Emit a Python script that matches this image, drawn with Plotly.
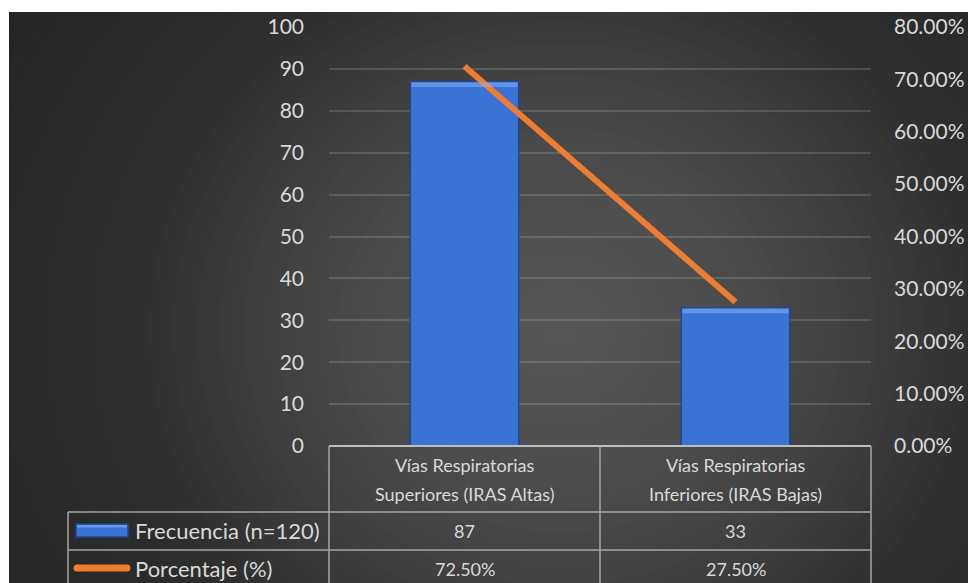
import plotly.graph_objects as go

# ---------------- data ----------------
categories = ["Vías Respiratorias<br>Superiores (IRAS Altas)",
              "Vías Respiratorias<br>Inferiores (IRAS Bajas)"]
frecuencia = [87, 33]
porcentaje = [0.725, 0.275]
series_names = ["Frecuencia (n=120)", "Porcentaje (%)"]
left_ticks = [0, 10, 20, 30, 40, 50, 60, 70, 80, 90, 100]
right_ticks = [0.0, 0.1, 0.2, 0.3, 0.4, 0.5, 0.6, 0.7, 0.8]

# ---------------- geometry (screen pixels) ----------------
FW, FH = 968, 583
L, R, T, B = 329, 871, 27, 446          # plot area
W, H = R - L, B - T


def px(x):
    return (x - L) / W


def py(y):
    return (B - y) / H


FONT = "Lato, Carlito, Calibri, sans-serif"
CELL_FONT = FONT
TXT = "#d9d9d9"
GRID = "rgba(255,255,255,0.14)"
TABLE = "#a6a6a6"
BLUE = "#3a72d6"
BLUE_EDGE = "#1d4894"
ORANGE = "#ed7d31"
FS_TICK = 21
FS_NAME = 22
FS_CELL = 18
BAR_W = 0.4

fig = go.Figure()

fig.add_trace(go.Bar(
    x=categories, y=frecuencia, name=series_names[0],
    marker=dict(color=BLUE, line=dict(color=BLUE_EDGE, width=1.5)),
    width=BAR_W, yaxis="y", showlegend=False, hoverinfo="skip"))

fig.add_trace(go.Scatter(
    x=categories, y=porcentaje, name=series_names[1], mode="lines",
    line=dict(color=ORANGE, width=6), yaxis="y2", showlegend=False,
    hoverinfo="skip"))

shapes = []

# background radial gradient (stepped ellipses)
cx, cy, rx, ry = 560, 330, 440, 400


def gray(t):
    if t <= 1:
        c = 86 - 40 * t ** 1.5
    else:
        c = 46 - (t - 1) * 18
    c = max(36, int(round(c)))
    return "rgb(%d,%d,%d)" % (c, c, c)


shapes.append(dict(type="rect", xref="paper", yref="paper",
                   x0=px(0), x1=px(FW), y0=py(FH), y1=py(0),
                   fillcolor=gray(2.0), line=dict(width=0), layer="below"))
n = 60
tmax = 1.6
for i in range(n):
    t = tmax * (n - i) / n
    shapes.append(dict(type="circle", xref="paper", yref="paper",
                       x0=px(cx - rx * t), x1=px(cx + rx * t),
                       y0=py(cy + ry * t), y1=py(cy - ry * t),
                       fillcolor=gray(t), line=dict(width=0), layer="below"))
# white outer strips (chart frame starts at x=9, y=12)
shapes.append(dict(type="rect", xref="paper", yref="paper",
                   x0=px(-10), x1=px(FW + 10), y0=py(12), y1=py(-10),
                   fillcolor="white", line=dict(width=0), layer="below"))
shapes.append(dict(type="rect", xref="paper", yref="paper",
                   x0=px(-10), x1=px(9), y0=py(FH + 10), y1=py(-10),
                   fillcolor="white", line=dict(width=0), layer="below"))

# bevel highlight on top of each bar (data coordinates)
for i, v in enumerate(frecuencia):
    shapes.append(dict(type="rect", xref="x", yref="y",
                       x0=i - BAR_W / 2 + 0.004, x1=i + BAR_W / 2 - 0.004,
                       y0=v - 1.3, y1=v - 0.2,
                       fillcolor="rgba(150,190,255,0.45)", line=dict(width=0),
                       layer="above"))


def hline(y, x0, x1, w=1.5, col=TABLE):
    shapes.append(dict(type="line", xref="paper", yref="paper",
                       x0=px(x0), x1=px(x1), y0=py(y), y1=py(y),
                       line=dict(color=col, width=w), layer="above"))


def vline(x, y0, y1, w=1.5, col=TABLE):
    shapes.append(dict(type="line", xref="paper", yref="paper",
                       x0=px(x), x1=px(x), y0=py(y0), y1=py(y1),
                       line=dict(color=col, width=w), layer="above"))


hline(446, 329, 871, 2, "#bfbfbf")
hline(512, 68, 871)
hline(550, 68, 871)
vline(329, 446, 600)
vline(600, 446, 600)
vline(871, 446, 600)
vline(68, 512, 600)

# legend keys in table
shapes.append(dict(type="rect", xref="paper", yref="paper",
                   x0=px(76), x1=px(128), y0=py(537), y1=py(524),
                   fillcolor=BLUE, line=dict(color=BLUE_EDGE, width=1.5),
                   layer="above"))
shapes.append(dict(type="rect", xref="paper", yref="paper",
                   x0=px(77), x1=px(127), y0=py(527.5), y1=py(525),
                   fillcolor="rgba(150,190,255,0.5)", line=dict(width=0),
                   layer="above"))
shapes.append(dict(type="rect", xref="paper", yref="paper",
                   x0=px(77), x1=px(127), y0=py(571.5), y1=py(564.5),
                   fillcolor=ORANGE, line=dict(width=0), layer="above"))
for ex in (77, 127):
    shapes.append(dict(type="circle", xref="paper", yref="paper",
                       x0=px(ex - 3.5), x1=px(ex + 3.5),
                       y0=py(571.5), y1=py(564.5),
                       fillcolor=ORANGE, line=dict(width=0), layer="above"))

annotations = []
for i, cat in enumerate(categories):
    for line_text, yc in zip(cat.split("<br>"), (465, 494)):
        annotations.append(dict(x=cat, xref="x", y=py(yc), yref="paper",
                                text=line_text, showarrow=False,
                                font=dict(family=CELL_FONT, size=FS_CELL, color=TXT),
                                xanchor="center", yanchor="middle"))
    annotations.append(dict(x=cat, xref="x", y=py(531), yref="paper",
                            text=str(frecuencia[i]), showarrow=False,
                            font=dict(family=CELL_FONT, size=FS_CELL, color=TXT),
                            xanchor="center", yanchor="middle"))
    annotations.append(dict(x=cat, xref="x", y=py(569), yref="paper",
                            text="%.2f%%" % (porcentaje[i] * 100), showarrow=False,
                            font=dict(family=CELL_FONT, size=FS_CELL, color=TXT),
                            xanchor="center", yanchor="middle"))
for name, yc in zip(series_names, (530, 568)):
    annotations.append(dict(x=px(133), xref="paper", y=py(yc), yref="paper",
                            text=name, showarrow=False,
                            font=dict(family=FONT, size=FS_NAME, color=TXT),
                            xanchor="left", yanchor="middle"))

fig.update_layout(
    width=FW, height=FH, autosize=False,
    margin=dict(l=L, r=FW - R, t=T, b=FH - B, pad=0, autoexpand=False),
    paper_bgcolor="white", plot_bgcolor="rgba(0,0,0,0)",
    font=dict(family=FONT, size=FS_TICK, color=TXT),
    showlegend=False,
    xaxis=dict(type="category", range=[-0.5, 1.5], showticklabels=False,
               showgrid=False, zeroline=False, showline=False, ticks="",
               automargin=False),
    yaxis=dict(range=[0, 100], tickvals=left_ticks, showgrid=True,
               gridcolor=GRID, gridwidth=1.5, zeroline=False, showline=False,
               ticks="", ticklabelstandoff=24, automargin=False,
               tickfont=dict(family=FONT, size=FS_TICK, color=TXT)),
    yaxis2=dict(range=[0, 0.8], tickvals=right_ticks, tickformat=".2%",
                overlaying="y", side="right", showgrid=False, zeroline=False,
                showline=False, ticks="", ticklabelstandoff=22, automargin=False,
                tickfont=dict(family=FONT, size=FS_TICK, color=TXT)),
    shapes=shapes, annotations=annotations,
)

fig.write_html(
    "out.html",
    config={"displayModeBar": False},
    post_script="document.body.style.margin='0px';"
                "document.body.style.overflow='hidden';",
)
